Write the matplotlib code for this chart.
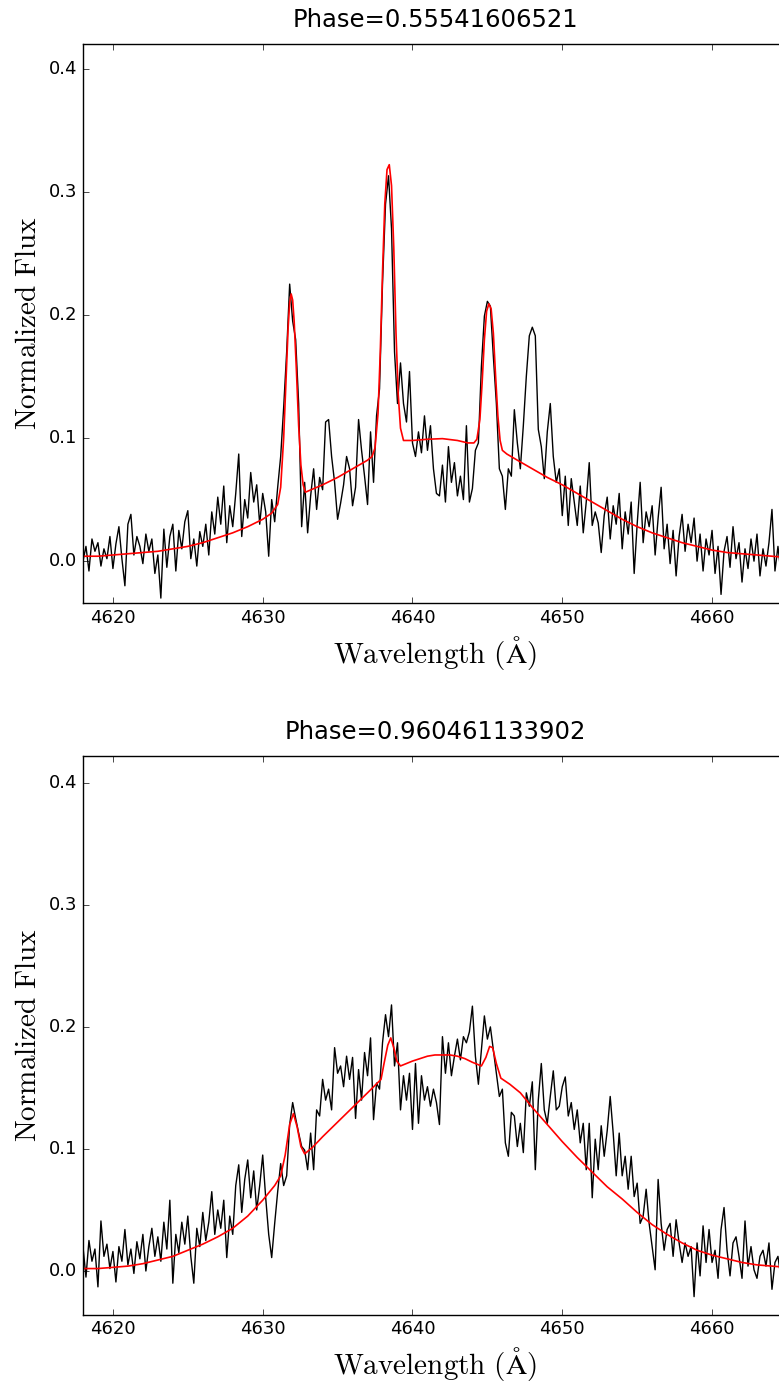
import numpy as np
import matplotlib
matplotlib.use("Agg")
import matplotlib.pyplot as plt

plt.style.use("classic")
plt.rcParams["mathtext.fontset"] = "cm"
plt.rcParams["axes.formatter.useoffset"] = False

# wavelength grid of the observed spectra (Angstrom)
wave = np.arange(4618.0, 4665.0, 0.2)[:235]

flux1 = [
    0.000, 0.012, -0.008, 0.018, 0.008, 0.015, -0.004, 0.010, 0.002, 0.020,
    -0.006, 0.014, 0.028, 0.002, -0.020, 0.030, 0.038, 0.005, 0.020, 0.012,
    -0.002, 0.022, 0.008, 0.018, -0.010, 0.005, -0.030, 0.026, -0.005, 0.020,
    0.030, -0.008, 0.025, 0.010, 0.032, 0.041, 0.002, 0.018, -0.004, 0.024,
    0.012, 0.030, 0.005, 0.040, 0.022, 0.052, 0.030, 0.061, 0.015, 0.045,
    0.028, 0.055, 0.087, 0.020, 0.050, 0.035, 0.072, 0.048, 0.062, 0.030,
    0.055, 0.040, 0.004, 0.050, 0.032, 0.060, 0.085, 0.125, 0.170, 0.225,
    0.195, 0.180, 0.128, 0.028, 0.064, 0.023, 0.053, 0.075, 0.042, 0.068,
    0.058, 0.113, 0.115, 0.085, 0.064, 0.034, 0.047, 0.062, 0.085, 0.075,
    0.045, 0.060, 0.115, 0.090, 0.069, 0.046, 0.105, 0.064, 0.118, 0.140,
    0.226, 0.290, 0.313, 0.270, 0.170, 0.128, 0.161, 0.128, 0.113, 0.154,
    0.096, 0.085, 0.105, 0.088, 0.118, 0.090, 0.110, 0.075, 0.055, 0.053,
    0.078, 0.048, 0.093, 0.064, 0.080, 0.053, 0.069, 0.050, 0.110, 0.048,
    0.059, 0.090, 0.096, 0.158, 0.199, 0.211, 0.207, 0.166, 0.128, 0.075,
    0.069, 0.042, 0.075, 0.069, 0.123, 0.096, 0.075, 0.110, 0.150, 0.183,
    0.190, 0.183, 0.107, 0.093, 0.067, 0.105, 0.128, 0.085, 0.064, 0.075,
    0.037, 0.069, 0.029, 0.067, 0.048, 0.029, 0.061, 0.023, 0.048, 0.080,
    0.029, 0.040, 0.031, 0.007, 0.037, 0.052, 0.018, 0.045, 0.030, 0.055,
    0.010, 0.040, 0.022, 0.048, -0.010, 0.030, 0.064, 0.015, 0.040, 0.028,
    0.045, 0.005, 0.035, 0.060, 0.010, 0.030, -0.002, 0.025, -0.012, 0.020,
    0.038, 0.008, 0.030, 0.015, 0.035, 0.000, 0.022, -0.008, 0.018, 0.005,
    0.025, -0.010, 0.012, -0.027, 0.008, 0.020, -0.005, 0.028, 0.002, 0.015,
    -0.017, 0.010, -0.006, 0.018, 0.000, 0.022, -0.012, 0.010, -0.004, 0.015,
    0.042, -0.008, 0.012, -0.010, 0.005,
]

flux2 = [
    0.020, -0.005, 0.025, 0.008, 0.018, -0.013, 0.041, 0.012, 0.022, 0.002,
    0.016, -0.009, 0.020, 0.008, 0.034, 0.005, 0.018, -0.002, 0.024, 0.010,
    0.030, 0.000, 0.020, 0.035, 0.012, 0.028, 0.008, 0.040, 0.018, 0.058,
    -0.010, 0.030, 0.015, 0.040, 0.022, 0.045, 0.012, -0.010, 0.035, 0.020,
    0.048, 0.025, 0.040, 0.065, 0.030, 0.050, 0.035, 0.058, 0.011, 0.045,
    0.030, 0.070, 0.087, 0.048, 0.075, 0.091, 0.060, 0.082, 0.050, 0.070,
    0.095, 0.060, 0.030, 0.011, 0.039, 0.065, 0.088, 0.070, 0.078, 0.120,
    0.138, 0.125, 0.113, 0.102, 0.099, 0.083, 0.113, 0.083, 0.132, 0.127,
    0.157, 0.140, 0.149, 0.132, 0.183, 0.162, 0.168, 0.151, 0.176, 0.157,
    0.175, 0.125, 0.165, 0.140, 0.179, 0.160, 0.191, 0.124, 0.154, 0.149,
    0.187, 0.210, 0.192, 0.218, 0.168, 0.187, 0.132, 0.160, 0.140, 0.162,
    0.116, 0.170, 0.121, 0.160, 0.140, 0.151, 0.135, 0.149, 0.138, 0.120,
    0.192, 0.162, 0.187, 0.160, 0.176, 0.190, 0.173, 0.192, 0.187, 0.196,
    0.217, 0.176, 0.153, 0.181, 0.209, 0.190, 0.200, 0.181, 0.162, 0.143,
    0.149, 0.105, 0.094, 0.130, 0.127, 0.102, 0.121, 0.097, 0.146, 0.135,
    0.155, 0.083, 0.140, 0.170, 0.132, 0.121, 0.143, 0.164, 0.132, 0.135,
    0.151, 0.159, 0.127, 0.138, 0.116, 0.132, 0.105, 0.121, 0.083, 0.121,
    0.060, 0.108, 0.083, 0.119, 0.094, 0.115, 0.143, 0.113, 0.078, 0.113,
    0.078, 0.094, 0.067, 0.094, 0.061, 0.072, 0.039, 0.045, 0.067, 0.039,
    0.020, 0.001, 0.075, 0.039, 0.017, 0.034, 0.039, 0.012, 0.042, 0.023,
    0.007, 0.023, 0.012, 0.020, -0.021, 0.023, -0.004, 0.037, 0.007, 0.034,
    0.007, 0.017, -0.006, 0.034, 0.052, 0.017, -0.004, 0.023, 0.028, 0.012,
    -0.006, 0.041, 0.004, 0.020, 0.001, -0.006, 0.012, 0.017, 0.004, 0.023,
    -0.015, 0.007, 0.012, -0.006, 0.001,
]

# model profiles (red curves)
model1_wave = [4618, 4619, 4620, 4621, 4622, 4623, 4624, 4625, 4626, 4627,
               4628, 4629, 4630, 4630.6, 4631.0, 4631.2, 4631.4, 4631.55, 4631.7, 4631.8,
               4631.9, 4632.0, 4632.1, 4632.25, 4632.4, 4632.55, 4632.7, 4632.85, 4634, 4635,
               4636, 4637, 4637.3, 4637.5, 4637.7, 4637.85, 4638.0, 4638.15, 4638.3, 4638.45,
               4638.6, 4638.75, 4638.9, 4639.05, 4639.2, 4639.4, 4640, 4641, 4642, 4643,
               4643.7, 4644.1, 4644.3, 4644.5, 4644.65, 4644.8, 4644.95, 4645.1, 4645.25, 4645.4,
               4645.55, 4645.7, 4645.85, 4646.0, 4646.3, 4647, 4648, 4649, 4650, 4651,
               4652, 4653, 4654, 4655, 4656, 4657, 4658, 4659, 4660, 4661,
               4662, 4663, 4664, 4665]
model1_flux = [0.004, 0.004, 0.005, 0.006, 0.007, 0.008, 0.010, 0.012, 0.015, 0.019,
               0.023, 0.028, 0.034, 0.039, 0.046, 0.060, 0.100, 0.145, 0.190, 0.210,
               0.217, 0.212, 0.195, 0.155, 0.110, 0.078, 0.062, 0.056, 0.062, 0.068,
               0.075, 0.082, 0.085, 0.092, 0.120, 0.170, 0.235, 0.290, 0.318, 0.322,
               0.305, 0.255, 0.185, 0.135, 0.108, 0.098, 0.098, 0.099, 0.0995, 0.098,
               0.096, 0.096, 0.099, 0.115, 0.145, 0.180, 0.203, 0.209, 0.205, 0.185,
               0.150, 0.118, 0.098, 0.090, 0.087, 0.082, 0.075, 0.068, 0.062, 0.055,
               0.048, 0.041, 0.034, 0.028, 0.023, 0.019, 0.015, 0.012, 0.009, 0.007,
               0.006, 0.005, 0.004, 0.003]

model2_wave = [4618, 4619, 4620, 4621, 4622, 4623, 4624, 4625, 4626, 4627,
               4628, 4629, 4630, 4630.8, 4631.2, 4631.5, 4631.8, 4632.05, 4632.3, 4632.55,
               4632.8, 4633.3, 4634, 4635, 4636, 4637, 4637.9, 4638.1, 4638.35, 4638.55,
               4638.75, 4638.95, 4639.2, 4639.6, 4640, 4640.5, 4641, 4641.5, 4642, 4642.5,
               4643, 4643.5, 4644, 4644.6, 4644.9, 4645.15, 4645.35, 4645.6, 4645.9, 4646.5,
               4647.2, 4648, 4649, 4650, 4651, 4652, 4653, 4654, 4655, 4656,
               4657, 4658, 4659, 4660, 4661, 4662, 4663, 4664, 4665]
model2_flux = [0.002, 0.002, 0.003, 0.004, 0.006, 0.009, 0.012, 0.017, 0.022, 0.028,
               0.035, 0.045, 0.058, 0.070, 0.078, 0.095, 0.120, 0.129, 0.118, 0.102,
               0.096, 0.101, 0.110, 0.122, 0.134, 0.146, 0.157, 0.170, 0.185, 0.191,
               0.183, 0.172, 0.168, 0.170, 0.172, 0.174, 0.176, 0.177, 0.177, 0.177,
               0.176, 0.174, 0.171, 0.168, 0.175, 0.184, 0.183, 0.170, 0.158, 0.153,
               0.146, 0.134, 0.120, 0.106, 0.093, 0.081, 0.069, 0.059, 0.048, 0.038,
               0.030, 0.023, 0.017, 0.013, 0.010, 0.007, 0.005, 0.004, 0.003]

titles = ["Phase=0.55541606521", "Phase=0.960461133902"]
ylims = [(-0.034, 0.42), (-0.036, 0.422)]

fig = plt.figure(figsize=(7.79, 13.84), dpi=100, facecolor="white")
# the right edge of the axes sits just past the figure edge, as in the original crop
ax1 = fig.add_axes([0.1065, 0.5643, 0.9037, 0.4039])
ax2 = fig.add_axes([0.1065, 0.0499, 0.9037, 0.4039])

panels = [(ax1, flux1, model1_wave, model1_flux),
          (ax2, flux2, model2_wave, model2_flux)]
for k, (ax, flux, mw, mf) in enumerate(panels):
    ax.plot(wave, flux, color="k", lw=1.0)
    ax.plot(mw, mf, color="r", lw=1.2)
    ax.set_xlim(4618, 4665)
    ax.set_ylim(*ylims[k])
    ax.set_xticks([4620, 4630, 4640, 4650, 4660])
    ax.set_yticks([0.0, 0.1, 0.2, 0.3, 0.4])
    ax.ticklabel_format(useOffset=False)
    ax.tick_params(labelsize=13)
    ax.set_title(titles[k], fontsize=17.5, pad=12)
    ax.set_xlabel(r"$\mathrm{Wavelength\ (\AA)}$", fontsize=21)
    ax.set_ylabel(r"$\mathrm{Normalized\ Flux}$", fontsize=21)

fig.savefig("out.png", dpi=100, facecolor="white")
